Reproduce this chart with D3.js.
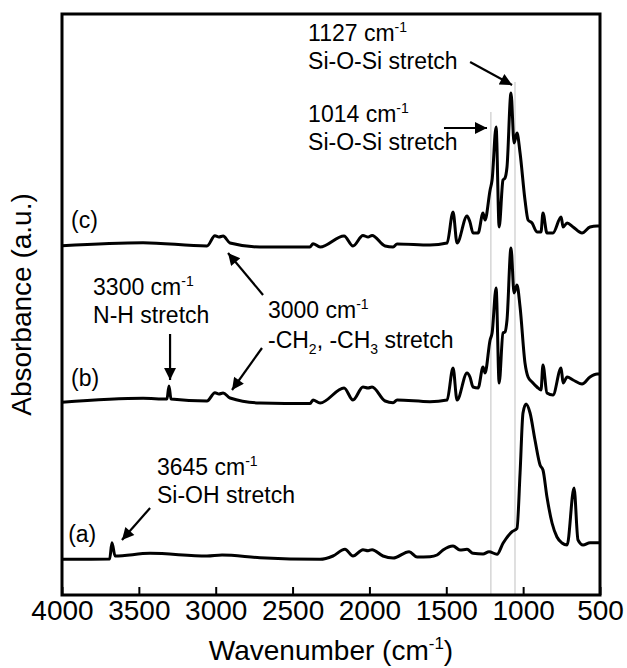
<!DOCTYPE html>
<html><head><meta charset="utf-8">
<script src="https://cdn.jsdelivr.net/npm/d3@7"></script>
<style>body{margin:0;background:#fff}text{font-family:"Liberation Sans",Arial,sans-serif;fill:#000}</style>
</head><body>
<svg id="c" width="627" height="668"></svg>
<script>
// Wavenumbers (cm-1) and absorbance (a.u., offset stacked)
const specA_w = [4000,3690,3675,3655,3427,3057,2959,2712,2321,2237,2159,2107,2042,2009,1983,1912,1846,1742,1690,1606,1560,1521,1456,1411,1365,1326,1261,1222,1170,1131,1072,1040,1020,1001,981,955,923,890,871,845,812,780,747,714,669,643,610,565,500];
const specA_v = [3.57,3.6,5.23,3.9,4.17,3.9,4.0,3.73,3.57,3.9,4.57,3.9,4.53,4.43,4.53,3.9,3.7,4.33,3.8,3.83,4.0,4.5,4.9,4.5,4.57,4.17,4.1,4.33,4.07,5.17,6.33,6.67,12.2,18.2,19.1,18.2,15.5,13.0,12.5,9.8,7.2,5.8,5.2,5.0,10.7,5.5,5.0,5.23,5.23];
const specB_w = [4000,3473,3317,3304,3291,3057,3005,2979,2952,2907,2712,2386,2367,2321,2165,2107,2042,2009,1983,1898,1846,1820,1606,1495,1456,1430,1365,1346,1326,1293,1261,1248,1215,1202,1176,1156,1131,1118,1105,1079,1059,1040,1020,988,968,942,910,884,871,845,806,753,740,714,675,617,565,519,500];
const specB_v = [19.27,19.67,19.6,20.9,19.6,19.4,20.23,20.1,20.2,19.7,19.2,19.15,19.5,19.2,20.7,19.5,20.8,20.7,20.8,19.4,19.23,19.5,19.33,19.5,22.7,19.5,22.2,21.8,20.8,20.7,22.8,22.2,25.5,26.2,30.7,21.2,26.2,26.3,27.5,34.7,30.2,31.0,28.8,23.2,21.8,21.3,20.8,20.5,23.0,20.2,20.0,22.7,21.2,21.8,21.5,21.1,21.8,22.1,22.1];
const specC_w = [4000,3473,3057,3005,2979,2952,2907,2712,2386,2367,2321,2165,2107,2042,2009,1983,1898,1846,1820,1606,1495,1456,1430,1365,1346,1326,1293,1261,1248,1215,1202,1176,1156,1131,1118,1105,1079,1059,1040,1020,988,968,942,910,884,871,845,806,753,740,714,675,617,565,519,500];
const specC_v = [34.93,35.23,34.9,35.93,35.8,35.9,35.2,34.8,34.8,35.13,34.8,35.9,34.9,35.95,35.8,35.95,34.9,34.8,35.1,35.0,35.2,38.3,35.2,37.9,37.3,36.2,36.2,38.2,37.5,40.5,41.5,46.8,36.8,41.5,41.7,42.8,50.2,45.2,46.2,44.2,39.5,37.5,37.2,36.3,36.3,38.2,36.2,36.2,37.8,36.8,37.2,36.8,36.2,36.8,36.9,36.9];
const xTicks = [4000,3500,3000,2500,2000,1500,1000,500];
const refLines_w = [1210,1053];
const refLines_top = [48.3,51.3];
const seriesLabels = ["(a)","(b)","(c)"];
const seriesLabel_w = [3960,3941,3941];
const seriesLabel_v = [5.3,20.9,36.7];

const svg = d3.select("#c");
const L=62,R=600,T=14,B=595;
const x = d3.scaleLinear().domain([4000,500]).range([L,R]);
const y = d3.scaleLinear().domain([0,58.1]).range([B,T]);

// reference lines
svg.selectAll(".ref").data(refLines_w).join("line")
  .attr("x1",d=>x(d)).attr("x2",d=>x(d))
  .attr("y1",(d,i)=>y(refLines_top[i])).attr("y2",y(0))
  .attr("stroke","#cfcfcf").attr("stroke-width",1.3);

const line = d3.line().x(d=>x(d[0])).y(d=>y(d[1])).curve(d3.curveMonotoneX);
[[specA_w,specA_v],[specB_w,specB_v],[specC_w,specC_v]].forEach(([w,v])=>{
  svg.append("path").datum(w.map((d,i)=>[x(d),v[i]]).sort((a,b)=>a[0]-b[0]).map(p=>[x.invert(p[0]),p[1]]))
    .attr("d",line).attr("fill","none").attr("stroke","#000")
    .attr("stroke-width",3).attr("stroke-linejoin","round");
});

// axis
const ax = svg.append("g").attr("transform",`translate(0,${B})`)
  .call(d3.axisBottom(x).tickValues(xTicks).tickFormat(d3.format("d")).tickSizeInner(-8).tickSizeOuter(0).tickPadding(5));
ax.select(".domain").remove();
ax.selectAll("line").attr("stroke","#000").attr("stroke-width",2);
ax.selectAll("text").attr("font-size",28).attr("font-family","Liberation Sans, Arial, sans-serif");

svg.append("rect").attr("x",L).attr("y",T).attr("width",R-L).attr("height",B-T)
  .attr("fill","none").attr("stroke","#000").attr("stroke-width",3);

// axis titles
const xt = svg.append("text").attr("x",(L+R)/2).attr("y",660).attr("text-anchor","middle").attr("font-size",28);
xt.append("tspan").text("Wavenumber (cm");
xt.append("tspan").text("-1").attr("font-size",17).attr("dy",-11);
xt.append("tspan").text(")").attr("dy",11);
svg.append("text").attr("transform",`translate(31,${(T+B)/2}) rotate(-90)`).attr("text-anchor","middle")
  .attr("font-size",28).text("Absorbance (a.u.)");

// series labels
svg.selectAll(".sl").data(seriesLabels).join("text")
  .attr("x",(d,i)=>x(seriesLabel_w[i])).attr("y",(d,i)=>y(seriesLabel_v[i]))
  .attr("font-size",23).text(d=>d);

// annotations
svg.append("defs").append("marker").attr("id","ah").attr("viewBox","0 0 10 10")
  .attr("refX",10).attr("refY",5).attr("markerWidth",15).attr("markerHeight",12)
  .attr("markerUnits","userSpaceOnUse").attr("orient","auto")
  .append("path").attr("d","M0,0L10,5L0,10Z").attr("fill","#000");

const annWave = ["1127","1014","3300","3000","3645"];
const annText2 = ["Si-O-Si stretch","Si-O-Si stretch","N-H stretch",null,"Si-OH stretch"];
const annPos_w = [2399,2399,3798,2660,3382];
const annPos_v = [55.4,47.3,30.0,27.7,12.0];
const arrows = [
  [1345,53.3,1072,51.0],[1515,46.7,1235,46.7],[3297,26.1,3297,21.5],
  [2692,30.0,2920,34.2],[2699,24.7,2894,20.5],[3427,8.7,3610,5.5]];

annWave.forEach((wv,i)=>{
  const t = svg.append("text").attr("x",x(annPos_w[i])).attr("y",y(annPos_v[i])).attr("font-size",23);
  t.append("tspan").text(wv+" cm");
  t.append("tspan").text("-1").attr("font-size",14).attr("dy",-9);
  const t2 = svg.append("text").attr("x",x(annPos_w[i])).attr("y",y(annPos_v[i])+28).attr("font-size",23);
  if(annText2[i]) t2.text(annText2[i]);
  else {
    t2.attr("y",y(annPos_v[i])+30);
    t2.append("tspan").text("-CH");
    t2.append("tspan").text("2").attr("font-size",14).attr("dy",6);
    t2.append("tspan").text(", -CH").attr("dy",-6);
    t2.append("tspan").text("3").attr("font-size",14).attr("dy",6);
    t2.append("tspan").text(" stretch").attr("dy",-6);
  }
});
svg.selectAll(".arr").data(arrows).join("line")
  .attr("x1",d=>x(d[0])).attr("y1",d=>y(d[1])).attr("x2",d=>x(d[2])).attr("y2",d=>y(d[3]))
  .attr("stroke","#000").attr("stroke-width",2.2).attr("marker-end","url(#ah)");
</script>
</body></html>
